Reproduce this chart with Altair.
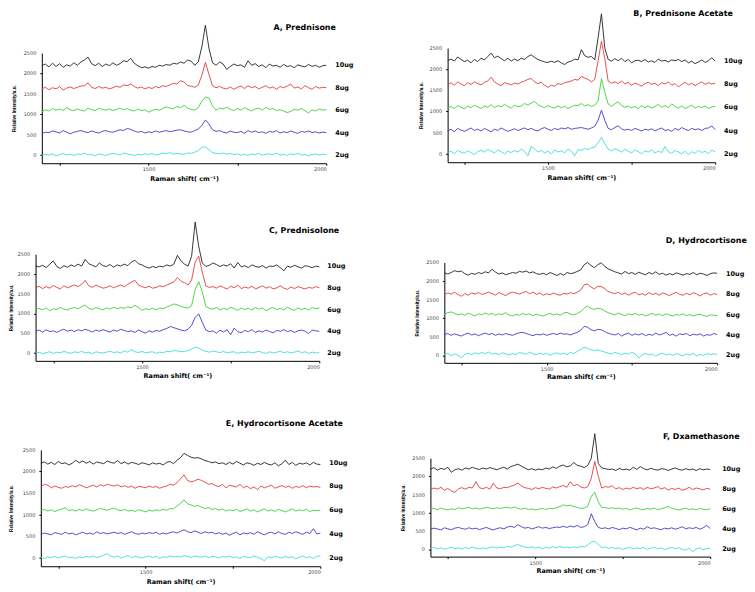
import altair as alt
import pandas as pd

# Raman shift sampling grid (cm^-1)
X = list(range(1200, 2001, 10))
DOSES = ["10ug", "8ug", "6ug", "4ug", "2ug"]
LABEL_Y = [2200, 1650, 1100, 550, 0]
COLORS = ["#222222", "#e23c3c", "#3ccf3c", "#3c3cc4", "#3cdcdc"]
X_TICKS = [1250, 1500, 1750, 2000]
Y_TICKS = [0, 250, 500, 750, 1000, 1250, 1500, 1750, 2000, 2250, 2500]
Y_LABELS = [0, 500, 1000, 1500, 2000, 2500]

# ---------------- A, Prednisone ----------------
A_10 = [2190, 2230, 2160, 2250, 2170, 2240, 2150, 2210, 2180, 2260,
        2200, 2280, 2330, 2400, 2240, 2190, 2250, 2170, 2230, 2190,
        2260, 2200, 2240, 2310, 2290, 2370, 2250, 2190, 2140, 2160,
        2130, 2170, 2150, 2200, 2180, 2220, 2200, 2250, 2230, 2280,
        2250, 2330, 2300, 2200, 2280, 2650, 3180, 2620, 2260, 2200,
        2280, 2230, 2100, 2170, 2230, 2190, 2210, 2150, 2310, 2200,
        2240, 2170, 2210, 2140, 2230, 2180, 2200, 2150, 2220, 2170,
        2190, 2140, 2210, 2180, 2160, 2220, 2170, 2200, 2150, 2190, 2200]
A_8 = [1620, 1660, 1600, 1650, 1620, 1680, 1590, 1640, 1670, 1630,
       1660, 1690, 1700, 1770, 1660, 1630, 1680, 1640, 1660, 1620,
       1650, 1690, 1660, 1720, 1700, 1740, 1680, 1640, 1670, 1620,
       1660, 1630, 1680, 1650, 1700, 1680, 1720, 1760, 1740, 1820,
       1790, 1700, 1690, 1660, 1720, 1950, 2270, 1980, 1700, 1650,
       1680, 1640, 1620, 1670, 1610, 1660, 1690, 1630, 1700, 1650,
       1680, 1620, 1660, 1700, 1640, 1670, 1610, 1680, 1650, 1690,
       1740, 1640, 1670, 1620, 1700, 1650, 1610, 1680, 1640, 1660, 1650]
A_6 = [1060, 1110, 1080, 1140, 1100, 1130, 1090, 1160, 1110, 1090,
       1130, 1100, 1080, 1150, 1110, 1090, 1140, 1120, 1100, 1130,
       1090, 1120, 1150, 1110, 1140, 1100, 1080, 1130, 1090, 1110,
       1050, 1090, 1120, 1100, 1140, 1180, 1150, 1130, 1190, 1160,
       1220, 1150, 1120, 1100, 1160, 1320, 1420, 1400, 1200, 1100,
       1150, 1130, 1170, 1120, 1090, 1140, 1100, 1160, 1120, 1080,
       1130, 1150, 1100, 1170, 1120, 1140, 1090, 1110, 1080, 1040,
       1070, 1120, 1100, 1140, 1090, 1030, 1110, 1080, 1130, 1100, 1110]
A_4 = [530, 560, 550, 590, 570, 540, 600, 560, 520, 560,
       580, 600, 570, 550, 590, 560, 540, 580, 600, 570,
       560, 590, 620, 600, 650, 630, 590, 560, 580, 540,
       570, 550, 590, 560, 580, 600, 570, 590, 610, 620,
       590, 570, 560, 600, 640, 720, 860, 760, 620, 580,
       600, 560, 540, 590, 560, 550, 580, 530, 600, 560,
       590, 550, 570, 530, 580, 560, 600, 540, 570, 550,
       590, 560, 530, 580, 560, 590, 550, 570, 540, 560, 550]
A_2 = [-10, 20, 0, 30, -20, 10, 40, 0, 20, -10,
       30, 10, 50, 0, 20, -20, 30, 10, -10, 20,
       40, 20, 0, 50, 30, 10, -10, 20, 0, 30,
       10, 40, 0, 20, 50, 30, 60, 20, 40, 30,
       20, 50, 40, 70, 110, 190, 200, 130, 60, 40,
       30, 50, 20, 40, 10, 30, 0, 20, -10, 30,
       10, 40, 0, 20, 30, 10, 50, 0, 20, -10,
       30, 10, 40, 0, 20, -20, 10, 30, 0, 20, 10]

# ---------------- B, Prednisone Acetate ----------------
B_10 = [2200, 2240, 2190, 2290, 2230, 2180, 2210, 2150, 2230, 2180,
        2260, 2220, 2300, 2380, 2270, 2310, 2250, 2200, 2260, 2190,
        2240, 2200, 2260, 2230, 2300, 2340, 2280, 2230, 2200, 2170,
        2160, 2190, 2160, 2200, 2150, 2110, 2170, 2190, 2240, 2220,
        2460, 2320, 2280, 2300, 2220, 2750, 3310, 2500, 2230, 2190,
        2250, 2200, 2260, 2180, 2230, 2150, 2200, 2210, 2180, 2230,
        2170, 2200, 2160, 2240, 2190, 2210, 2170, 2220, 2200, 2230,
        2180, 2220, 2150, 2190, 2130, 2170, 2220, 2160, 2200, 2270, 2190]
B_8 = [1640, 1680, 1620, 1700, 1650, 1610, 1680, 1640, 1700, 1660,
       1630, 1690, 1720, 1810, 1700, 1650, 1610, 1680, 1660, 1630,
       1670, 1650, 1690, 1720, 1760, 1780, 1700, 1660, 1690, 1620,
       1570, 1620, 1600, 1660, 1640, 1680, 1700, 1720, 1760, 1740,
       1830, 1790, 1760, 1700, 1760, 2200, 2660, 2250, 1720, 1670,
       1700, 1660, 1720, 1650, 1690, 1620, 1670, 1640, 1600, 1660,
       1690, 1640, 1670, 1610, 1680, 1650, 1700, 1620, 1660, 1580,
       1640, 1690, 1630, 1670, 1610, 1660, 1700, 1640, 1680, 1650, 1670]
B_6 = [1080, 1120, 1070, 1140, 1100, 1060, 1130, 1090, 1150, 1110,
       1070, 1130, 1100, 1160, 1090, 1140, 1110, 1170, 1120, 1080,
       1150, 1110, 1130, 1190, 1150, 1200, 1240, 1160, 1120, 1090,
       1140, 1100, 1080, 1130, 1090, 1120, 1070, 1110, 1150, 1140,
       1190, 1130, 1160, 1120, 1150, 1250, 1780, 1450, 1180, 1120,
       1180, 1230, 1140, 1100, 1130, 1080, 1120, 1070, 1140, 1090,
       1130, 1080, 1120, 1170, 1100, 1140, 1090, 1180, 1120, 1080,
       1130, 1070, 1110, 1150, 1080, 1120, 1090, 1130, 1070, 1110, 1120]
B_4 = [540, 580, 520, 600, 560, 530, 570, 610, 550, 580,
       540, 600, 560, 520, 580, 550, 610, 570, 530, 560,
       590, 550, 580, 610, 570, 600, 560, 540, 590, 620,
       580, 550, 600, 570, 610, 590, 620, 580, 600, 610,
       620, 600, 580, 610, 650, 800, 1030, 790, 600, 570,
       620, 660, 590, 560, 580, 550, 600, 570, 540, 580,
       560, 590, 540, 580, 610, 550, 570, 530, 600, 560,
       620, 580, 550, 600, 570, 590, 550, 600, 610, 660, 570]
B_2 = [30, 60, 0, 80, 40, 10, 70, 30, -20, 50,
       80, 40, 100, 60, 20, 90, 50, 0, 60, 30,
       80, 40, 110, 60, -50, 170, 120, 40, 80, 20,
       60, 0, 90, 40, 70, 20, 110, 60, -50, 100,
       80, 120, 100, 140, 160, 260, 385, 240, 110, 70,
       120, 80, 40, 110, 60, 20, 90, 50, 0, 70,
       40, 90, 20, 60, 30, 170, 50, 10, 80, 40,
       0, 60, -20, 50, 10, 80, 30, 60, 0, 90, 40]

# ---------------- C, Prednisolone ----------------
C_10 = [2200, 2180, 2220, 2160, 2250, 2330, 2190, 2140, 2210, 2170,
        2230, 2190, 2250, 2200, 2370, 2260, 2220, 2180, 2280, 2210,
        2190, 2240, 2170, 2230, 2200, 2250, 2210, 2300, 2350, 2260,
        2230, 2180, 2150, 2190, 2160, 2200, 2180, 2230, 2200, 2250,
        2470, 2330, 2250, 2200, 2450, 3315, 2700, 2280, 2190, 2220,
        2280, 2240, 2190, 2230, 2200, 2260, 2150, 2290, 2180, 2210,
        2160, 2230, 2190, 2170, 2210, 2150, 2200, 2190, 2230, 2160,
        2080, 2200, 2170, 2220, 2180, 2150, 2210, 2190, 2160, 2200, 2180]
C_8 = [1650, 1690, 1630, 1680, 1640, 1710, 1660, 1620, 1700, 1650,
       1690, 1720, 1680, 1740, 1840, 1700, 1660, 1720, 1680, 1640,
       1660, 1700, 1650, 1690, 1720, 1680, 1740, 1790, 1840, 1720,
       1680, 1650, 1690, 1640, 1660, 1700, 1680, 1720, 1760, 1800,
       1910, 1820, 1780, 1720, 1850, 2300, 2450, 2050, 1700, 1660,
       1680, 1640, 1700, 1660, 1620, 1690, 1650, 1720, 1630, 1670,
       1640, 1690, 1620, 1660, 1700, 1640, 1680, 1620, 1650, 1700,
       1640, 1610, 1670, 1630, 1680, 1650, 1620, 1660, 1640, 1680, 1650]
C_6 = [1100, 1130, 1090, 1140, 1070, 1120, 1100, 1150, 1110, 1090,
       1130, 1150, 1120, 1170, 1215, 1130, 1100, 1150, 1120, 1090,
       1140, 1110, 1160, 1120, 1150, 1130, 1170, 1140, 1210, 1150,
       1080, 1120, 1100, 1130, 1090, 1140, 1120, 1160, 1200, 1240,
       1220, 1180, 1150, 1140, 1200, 1600, 1805, 1550, 1180, 1130,
       1110, 1150, 1090, 1130, 1100, 1160, 1120, 1080, 1140, 1100,
       1130, 1090, 1150, 1110, 1140, 1070, 1120, 1150, 1100, 1130,
       1090, 1160, 1110, 1080, 1140, 1100, 1130, 1090, 1150, 1120, 1140]
C_4 = [550, 580, 530, 590, 540, 560, 520, 570, 600, 550,
       580, 540, 590, 560, 600, 570, 530, 580, 550, 590,
       560, 530, 580, 550, 600, 570, 540, 560, 520, 580,
       540, 500, 560, 530, 570, 550, 590, 620, 670, 640,
       610, 580, 560, 600, 700, 900, 990, 780, 580, 540,
       560, 500, 580, 530, 590, 460, 630, 540, 510, 570,
       540, 590, 520, 560, 530, 580, 540, 510, 570, 550,
       590, 540, 570, 520, 560, 580, 550, 490, 580, 560, 550]
C_2 = [0, 20, -20, 10, 30, -10, 20, 0, 40, 10,
       -10, 30, 10, 40, 0, 20, -20, 30, 10, 0,
       20, 40, 10, 30, 0, 50, 20, 85, 30, 10,
       40, 0, 20, 30, -10, 20, 10, 40, 30, 60,
       50, 30, 40, 60, 100, 150, 130, 70, 40, 20,
       50, 30, 10, 40, 0, 20, 30, -10, 20, 10,
       30, 0, 20, 40, 10, -10, 30, 0, 20, 40,
       10, 30, 0, 20, 50, 10, 30, -10, 20, 0, 10]

# ---------------- D, Hydrocortisone ----------------
D_10 = [2220, 2190, 2230, 2280, 2250, 2270, 2200, 2160, 2210, 2180,
        2230, 2200, 2250, 2220, 2320, 2240, 2190, 2220, 2170, 2200,
        2230, 2210, 2260, 2240, 2270, 2220, 2250, 2200, 2180, 2210,
        2170, 2230, 2190, 2150, 2200, 2160, 2230, 2200, 2220, 2260,
        2300, 2440, 2500, 2420, 2360, 2440, 2490, 2400, 2330, 2290,
        2250, 2220, 2190, 2260, 2200, 2230, 2180, 2240, 2200, 2170,
        2230, 2190, 2250, 2180, 2210, 2160, 2200, 2170, 2220, 2190,
        2160, 2200, 2180, 2230, 2170, 2210, 2190, 2150, 2200, 2220, 2210]
D_8 = [1630, 1680, 1650, 1700, 1640, 1590, 1660, 1620, 1680, 1650,
       1690, 1640, 1670, 1700, 1660, 1620, 1690, 1650, 1610, 1670,
       1700, 1680, 1650, 1690, 1720, 1660, 1700, 1640, 1680, 1620,
       1660, 1630, 1680, 1640, 1620, 1670, 1650, 1690, 1660, 1700,
       1760, 1900, 1920, 1840, 1790, 1860, 1850, 1800, 1720, 1690,
       1660, 1700, 1640, 1680, 1620, 1670, 1700, 1630, 1660, 1620,
       1690, 1640, 1670, 1620, 1680, 1650, 1610, 1660, 1700, 1640,
       1620, 1670, 1630, 1690, 1650, 1600, 1660, 1680, 1620, 1660, 1640]
D_6 = [1110, 1150, 1170, 1130, 1090, 1120, 1080, 1140, 1100, 1060,
       1120, 1090, 1140, 1100, 1130, 1080, 1120, 1100, 1150, 1090,
       1060, 1100, 1080, 1130, 1090, 1120, 1070, 1110, 1080, 1060,
       1100, 1130, 1090, 1120, 1080, 1140, 1160, 1110, 1090, 1130,
       1180, 1270, 1330, 1260, 1240, 1270, 1250, 1200, 1150, 1120,
       1090, 1140, 1100, 1070, 1120, 1090, 1130, 1080, 1110, 1060,
       1100, 1130, 1080, 1110, 1070, 1120, 1090, 1060, 1100, 1080,
       1120, 1070, 1100, 1060, 1090, 1110, 1070, 1050, 1090, 1080, 1070]
D_4 = [560, 590, 540, 580, 550, 520, 570, 600, 550, 580,
       530, 570, 600, 560, 590, 540, 580, 550, 590, 560,
       540, 580, 610, 620, 590, 560, 530, 570, 550, 580,
       540, 570, 590, 560, 600, 570, 580, 550, 590, 620,
       680, 780, 760, 690, 660, 700, 690, 640, 600, 570,
       550, 590, 520, 570, 600, 540, 580, 550, 590, 530,
       570, 540, 600, 550, 580, 620, 540, 570, 520, 580,
       560, 590, 530, 570, 550, 580, 520, 560, 540, 590, 560]
D_2 = [20, 60, -10, 40, 10, -70, 30, 60, 20, 70,
       40, 80, 50, 90, 30, 60, 20, 70, 40, 10,
       50, 20, 80, 60, 30, 90, 40, 20, 60, 30,
       50, 10, 40, 70, 30, 60, 20, 80, 50, 110,
       160, 225, 190, 150, 130, 150, 120, 90, 60, 40,
       80, 50, 20, 60, 30, 90, 40, -70, 20, 50,
       10, 40, -20, 30, 60, 10, 40, 0, 50, 20,
       -10, 40, 10, 60, -20, 30, 0, 50, 20, 40, 30]

# ---------------- E, Hydrocortisone Acetate ----------------
E_10 = [2190, 2220, 2170, 2210, 2160, 2230, 2180, 2200, 2150, 2190,
        2260, 2200, 2240, 2190, 2230, 2170, 2220, 2200, 2180, 2240,
        2210, 2190, 2250, 2180, 2220, 2170, 2210, 2190, 2160, 2200,
        2180, 2150, 2200, 2170, 2190, 2150, 2210, 2230, 2180, 2260,
        2320, 2420, 2370, 2330, 2310, 2320, 2290, 2250, 2230, 2200,
        2220, 2180, 2200, 2160, 2210, 2170, 2230, 2190, 2150, 2200,
        2180, 2140, 2190, 2160, 2210, 2170, 2150, 2200, 2130, 2180,
        2260, 2160, 2210, 2140, 2190, 2170, 2200, 2150, 2210, 2170, 2160]
E_8 = [1640, 1700, 1680, 1620, 1660, 1630, 1610, 1650, 1630, 1670,
       1640, 1690, 1660, 1620, 1650, 1680, 1640, 1690, 1660, 1700,
       1680, 1660, 1690, 1640, 1670, 1630, 1660, 1610, 1650, 1640,
       1620, 1660, 1630, 1650, 1610, 1640, 1660, 1700, 1680, 1740,
       1830, 1920, 1790, 1760, 1780, 1820, 1790, 1750, 1700, 1720,
       1670, 1650, 1700, 1620, 1680, 1660, 1640, 1700, 1620, 1660,
       1600, 1640, 1580, 1660, 1620, 1650, 1680, 1610, 1640, 1670,
       1630, 1660, 1610, 1650, 1630, 1670, 1620, 1660, 1640, 1650, 1630]
E_6 = [1090, 1120, 1080, 1110, 1070, 1100, 1130, 1160, 1090, 1110,
       1080, 1120, 1090, 1130, 1100, 1080, 1110, 1140, 1120, 1100,
       1130, 1150, 1110, 1090, 1120, 1080, 1100, 1070, 1110, 1090,
       1060, 1100, 1080, 1110, 1090, 1120, 1100, 1140, 1130, 1200,
       1260, 1340, 1250, 1220, 1190, 1210, 1170, 1140, 1160, 1120,
       1140, 1100, 1130, 1080, 1110, 1090, 1120, 1070, 1100, 1130,
       1080, 1110, 1060, 1100, 1130, 1080, 1110, 1070, 1120, 1090,
       1060, 1100, 1130, 1080, 1110, 1090, 1120, 1070, 1100, 1090, 1100]
E_4 = [540, 570, 550, 530, 580, 560, 540, 590, 550, 570,
       530, 560, 590, 550, 570, 540, 600, 560, 580, 550,
       570, 590, 560, 580, 540, 570, 600, 560, 540, 570,
       550, 580, 560, 590, 540, 570, 550, 580, 600, 570,
       610, 645, 600, 580, 620, 590, 560, 600, 570, 590,
       550, 580, 540, 570, 520, 560, 590, 530, 570, 550,
       580, 540, 600, 560, 530, 570, 590, 550, 600, 560,
       540, 590, 560, 600, 570, 540, 590, 560, 670, 550, 570]
E_2 = [10, -20, 20, 0, 30, -10, 20, 40, 0, 10,
       -20, 20, 0, 30, 10, 40, 0, 20, 60, 90,
       30, 10, 40, -10, 20, 50, 0, 30, 10, -10,
       20, 40, 0, 30, -20, 20, 10, 40, 20, 30,
       10, 50, 30, 0, 40, 20, 10, 40, 0, 30,
       20, -10, 30, 10, 40, 0, 20, -20, 30, 10,
       0, 40, 10, -20, -75, 20, 0, 30, 10, -10,
       30, 0, 20, -30, 10, 40, 0, 20, -20, 30, 40]

# ---------------- F, Dxamethasone ----------------
F_10 = [2200, 2240, 2170, 2220, 2190, 2250, 2110, 2180, 2210, 2170,
        2230, 2200, 2250, 2210, 2190, 2230, 2200, 2240, 2210, 2180,
        2220, 2250, 2200, 2270, 2300, 2335, 2280, 2230, 2180, 2210,
        2170, 2200, 2180, 2230, 2200, 2260, 2220, 2280, 2310, 2260,
        2290, 2380, 2300, 2280, 2240, 2300, 2500, 3170, 2350, 2230,
        2210, 2190, 2200, 2160, 2220, 2180, 2200, 2170, 2250, 2190,
        2270, 2210, 2180, 2220, 2190, 2170, 2210, 2200, 2160, 2200,
        2230, 2190, 2170, 2210, 2180, 2200, 2160, 2210, 2180, 2200, 2190]
F_8 = [1640, 1680, 1650, 1700, 1620, 1670, 1600, 1560, 1660, 1690,
       1650, 1700, 1680, 1855, 1690, 1660, 1700, 1650, 1810, 1680,
       1660, 1700, 1690, 1730, 1760, 1820, 1740, 1690, 1670, 1640,
       1690, 1660, 1700, 1670, 1650, 1710, 1680, 1720, 1750, 1700,
       1855, 1740, 1780, 1710, 1680, 1720, 1950, 2410, 2000, 1680,
       1720, 1700, 1740, 1660, 1690, 1640, 1680, 1650, 1700, 1660,
       1690, 1640, 1700, 1660, 1680, 1720, 1650, 1690, 1620, 1670,
       1640, 1680, 1620, 1650, 1700, 1640, 1680, 1660, 1630, 1670, 1650]
F_6 = [1100, 1120, 1090, 1130, 1100, 1080, 1110, 1090, 1140, 1110,
       1130, 1150, 1110, 1130, 1100, 1120, 1150, 1130, 1110, 1140,
       1120, 1140, 1150, 1130, 1160, 1120, 1100, 1130, 1090, 1110,
       1080, 1100, 1120, 1090, 1130, 1110, 1140, 1170, 1220, 1190,
       1210, 1170, 1150, 1120, 1130, 1180, 1450, 1565, 1300, 1140,
       1150, 1120, 1140, 1110, 1130, 1100, 1120, 1080, 1110, 1130,
       1100, 1090, 1120, 1100, 1130, 1090, 1110, 1140, 1180, 1120,
       1100, 1080, 1110, 1130, 1090, 1110, 1080, 1120, 1100, 1090, 1110]
F_4 = [550, 580, 560, 530, 590, 560, 540, 580, 600, 570,
       550, 590, 560, 580, 540, 570, 600, 560, 530, 570,
       590, 560, 610, 630, 600, 675, 620, 580, 600, 560,
       590, 620, 580, 600, 570, 590, 610, 600, 630, 600,
       640, 610, 655, 600, 620, 680, 975, 760, 600, 570,
       590, 560, 600, 570, 540, 580, 560, 600, 570, 530,
       580, 550, 620, 570, 590, 560, 540, 580, 560, 590,
       550, 580, 620, 560, 590, 570, 600, 550, 590, 655, 570]
F_2 = [20, 50, 10, 40, 0, 30, 60, 20, 40, 10,
       50, 20, 60, 30, 10, 40, 20, 50, 70, 30,
       60, 40, 80, 60, 100, 130, 90, 60, 40, 70,
       30, 60, 20, 50, 30, 70, 40, 80, 50, 60,
       40, 70, 50, 80, 60, 120, 200, 220, 130, 50,
       60, 30, 50, 20, 40, 0, 30, 50, 10, 40,
       20, 50, 0, 30, 60, 10, 40, -10, 30, 50,
       20, 40, 0, -20, 30, -70, 10, 40, -10, 20, 30]

TITLES = ["A, Prednisone", "B, Prednisone Acetate", "C, Prednisolone",
          "D, Hydrocortisone", "E, Hydrocortisone Acetate", "F, Dxamethasone"]
# where each panel's title ends (right edge), in data units of that panel
TITLE_X = [2027, 2053, 2056, 2087, 2065, 2084]
TITLE_Y = [3065, 3260, 3047, 3035, 3054, 3037]
SERIES = [
    [A_10, A_8, A_6, A_4, A_2],
    [B_10, B_8, B_6, B_4, B_2],
    [C_10, C_8, C_6, C_4, C_2],
    [D_10, D_8, D_6, D_4, D_2],
    [E_10, E_8, E_6, E_4, E_2],
    [F_10, F_8, F_6, F_4, F_2],
]

# layout of each panel inside its cell (pixels)
LAYOUT = [
    dict(w=372, h=192, xr=[33, 319], yr=[154.5, 43.7], ytx=-27, xty=15.8, ldx=9),
    dict(w=367, h=192, xr=[69, 338], yr=[153.5, 38.7], ytx=-26.3, xty=15, ldx=9),
    dict(w=372, h=200, xr=[26.7, 312], yr=[161.2, 54], ytx=-24.2, xty=14.5, ldx=8),
    dict(w=367, h=200, xr=[65.7, 340], yr=[163.2, 62.3], ytx=-26.7, xty=13.5, ldx=9),
    dict(w=372, h=184, xr=[32, 313], yr=[167.7, 50.7], ytx=-29, xty=15.6, ldx=9),
    dict(w=367, h=184, xr=[51.7, 333], yr=[158, 59], ytx=-27.4, xty=13.7, ldx=12),
]


def panel(title, tx, ty, series, L):
    rows = []
    for dose, vals in zip(DOSES, series):
        for x, v in zip(X, vals):
            rows.append({"shift": x, "intensity": v, "dose": dose})
    df = pd.DataFrame(rows)
    lab = pd.DataFrame({"shift": [2000] * 5, "intensity": LABEL_Y, "dose": DOSES})
    ttl = pd.DataFrame({"shift": [tx], "intensity": [ty], "name": [title]})
    ylab = pd.DataFrame({"shift": [1200] * len(Y_LABELS), "intensity": Y_LABELS,
                         "txt": [str(v) for v in Y_LABELS]})

    xs = alt.Scale(domain=[1200, 2000], range=L["xr"], nice=False, zero=False)
    ys = alt.Scale(domain=[-200, 2500], range=L["yr"], nice=False, zero=False)
    xax = alt.Axis(values=X_TICKS, format="d", labelOverlap=False,
                   labelExpr="datum.value % 500 == 0 ? datum.label : ''",
                   offset=L["yr"][0] - L["h"], title="Raman shift( cm\u207b\u00b9)",
                   titleY=L["xty"], titleBaseline="middle",
                   titleFont="DejaVu Sans", titleFontSize=6.5, titleFontWeight="bold")
    yax = alt.Axis(values=Y_TICKS, labels=False,
                   offset=-L["xr"][0], title="Relative Intensity/a.u.",
                   titleX=L["ytx"], titleBaseline="middle",
                   titleFont="Liberation Sans", titleFontSize=4.6, titleFontWeight="bold")
    lines = alt.Chart(df).mark_line(strokeWidth=0.9).encode(
        x=alt.X("shift:Q", scale=xs, axis=xax),
        y=alt.Y("intensity:Q", scale=ys, axis=yax),
        color=alt.Color("dose:N", scale=alt.Scale(domain=DOSES, range=COLORS), legend=None),
        order=alt.Order("shift:Q"),
    )
    labels = alt.Chart(lab).mark_text(
        align="left", baseline="middle", dx=L["ldx"], font="DejaVu Sans",
        fontWeight="bold", fontSize=6.5, color="#000000",
    ).encode(x=alt.X("shift:Q"), y=alt.Y("intensity:Q"), text="dose:N")
    heading = alt.Chart(ttl).mark_text(
        align="right", baseline="alphabetic", font="DejaVu Sans",
        fontWeight="bold", fontSize=8, color="#000000",
    ).encode(x=alt.X("shift:Q"), y=alt.Y("intensity:Q"), text="name:N")
    yticklabels = alt.Chart(ylab).mark_text(
        align="right", baseline="middle", dx=-5.5, font="DejaVu Sans",
        fontSize=5, color="#444444",
    ).encode(x=alt.X("shift:Q"), y=alt.Y("intensity:Q"), text="txt:N")
    return alt.layer(lines, labels, heading, yticklabels).properties(width=L["w"], height=L["h"])


P = [panel(t, tx, ty, s, L) for t, tx, ty, s, L in zip(TITLES, TITLE_X, TITLE_Y, SERIES, LAYOUT)]
chart = alt.concat(*P, columns=2, spacing=0, bounds="flush").properties(
    padding=0, background="white"
).configure_view(stroke=None).configure_axis(
    grid=False, domainColor="#000000", domainWidth=1, tickColor="#000000", tickWidth=1,
    tickSize=2, labelFont="DejaVu Sans", labelFontSize=5, labelColor="#444444",
    labelPadding=1.5, titleColor="#000000", labelOverlap=False,
)

chart.save("out.html", embed_options={"renderer": "svg", "actions": False})
